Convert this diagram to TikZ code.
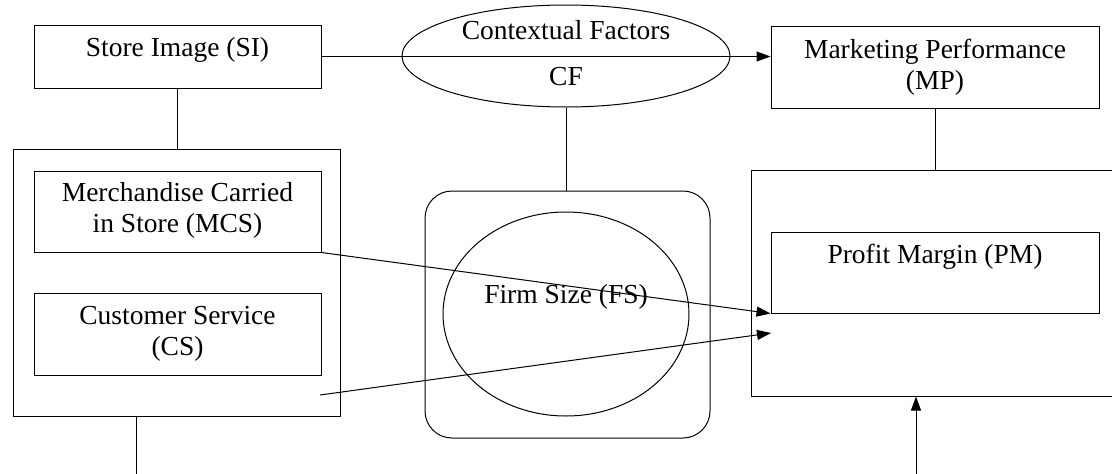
\documentclass[tikz,border=0pt]{standalone}
\usepackage{fontspec}
\setmainfont{Liberation Serif}
\usetikzlibrary{arrows.meta,shapes.geometric,calc}
\begin{document}
\begin{tikzpicture}[x=1pt,y=-1pt,
  line width=1pt,
  box/.style={draw,rectangle,inner sep=0pt,minimum width=#1},
  txt/.style={inner sep=0pt,align=center,font=\fontsize{27.5}{31}\selectfont},
  arr/.style={-{Triangle[length=14pt,width=10pt]}}]
\useasboundingbox (0,0) rectangle (1112,474);
\clip (0,0) rectangle (1112,474);
% boxes
\node[box=287pt,minimum height=63pt] (SI) at (177.5,56.5) {};
\node[txt] at (177.5,50) {Store Image (SI)};
\node[box=328pt,minimum height=82pt] (MP) at (935,67) {};
\node[txt] at (935,67.5) {Marketing Performance\\(MP)};
\node[box=327pt,minimum height=267pt] (LB) at (176.5,282.5) {};
\node[box=287pt,minimum height=81pt] (MCS) at (177.5,211.5) {};
\node[txt] at (177.5,210.5) {Merchandise Carried\\in Store (MCS)};
\node[box=287pt,minimum height=82pt] (CS) at (177.5,334) {};
\node[txt] at (177.5,333.5) {Customer Service\\(CS)};
\node[box=380pt,minimum height=226pt] (RB) at (941,283) {};
\node[box=328pt,minimum height=81pt] (PM) at (935,272.5) {};
\node[txt] at (935,257) {Profit Margin (PM)};
% contextual factors
\node[draw,ellipse,inner sep=0pt,minimum width=328pt,minimum height=102pt] (CF) at (566,56) {};
\node[txt] at (566,30) {Contextual Factors};
\node[txt] at (566,77) {CF};
% firm size
\node[draw,rectangle,rounded corners=27pt,inner sep=0pt,minimum width=285pt,minimum height=247pt] (FSR) at (567.5,314.5) {};
\node[draw,ellipse,inner sep=0pt,minimum width=246pt,minimum height=204pt] (FSE) at (566,314) {};
\node[txt] at (566,297) {Firm Size (FS)};
% coordinates
\coordinate (csout) at (320,395);
\coordinate (pmin) at (771,333);
\coordinate (botL) at (136,474);
\coordinate (botR) at (916,474);
% connectors
\draw[arr] (SI.east) -- (SI.east -| MP.west);
\draw (SI.south) -- (LB.north -| SI.south);
\draw (MP.south) -- (MP.south |- RB.north);
\draw (CF.south) -- (CF.south |- FSR.north);
\draw[arr] (MCS.south east) -- (PM.south west);
\draw[arr] (csout) -- (pmin);
\draw[arr] (botR) -- (botR |- RB.south);
\draw (botL |- LB.south) -- (botL);
\end{tikzpicture}
\end{document}
